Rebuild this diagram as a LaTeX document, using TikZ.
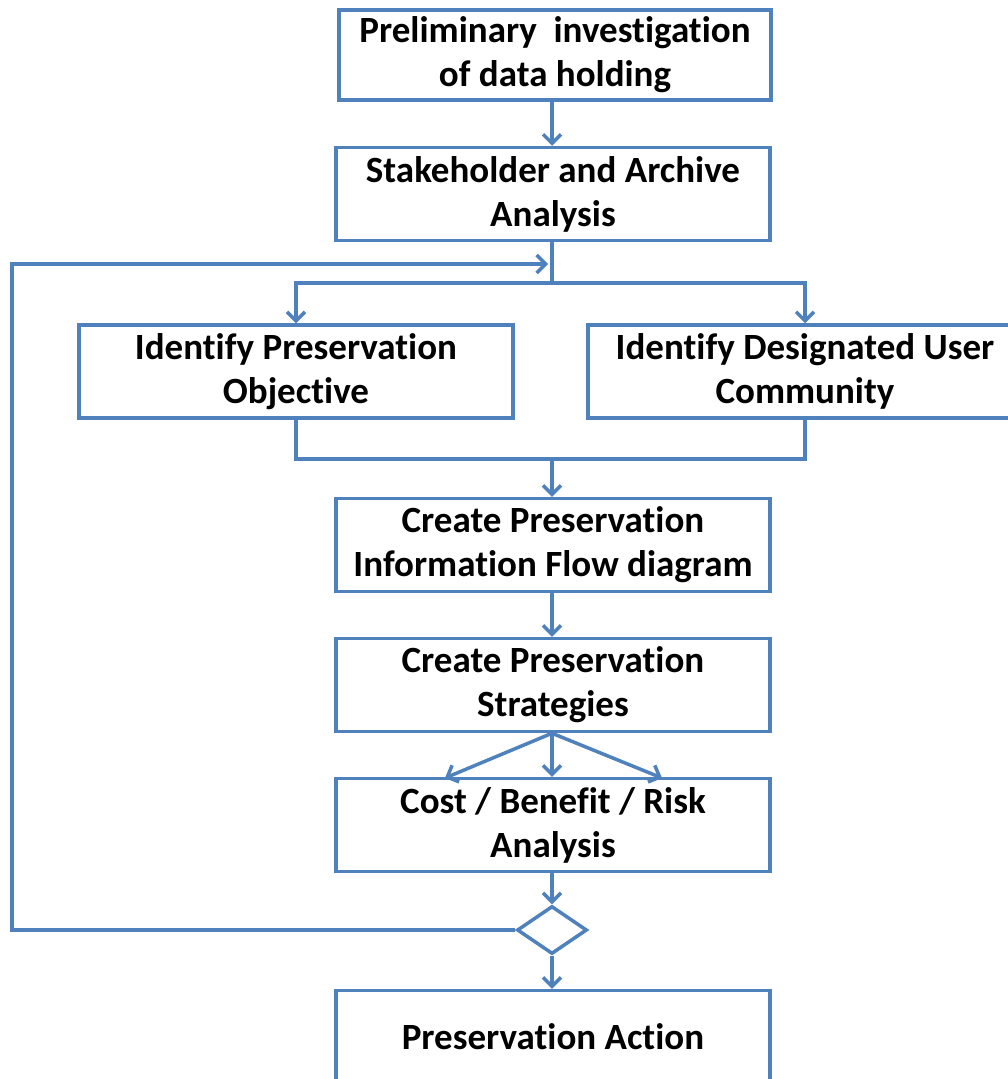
\documentclass[tikz,border=0pt]{standalone}
\usepackage{fontspec}
\setmainfont[Ligatures=NoCommon]{Carlito}
\usetikzlibrary{arrows.meta,shapes.geometric}
\definecolor{flowblue}{HTML}{4F81BD}
\tikzset{
  stepbox/.style={draw=flowblue, line width=3.5pt, fill=white, rectangle,
    minimum width=434pt, minimum height=93pt, inner sep=0pt,
    align=center, font=\bfseries\fontsize{37}{44}\selectfont},
  choice/.style={draw=flowblue, line width=3.5pt, diamond, fill=white,
    minimum width=70pt, minimum height=48pt, inner sep=0pt},
  link/.style={draw=flowblue, line width=3.5pt},
  flow/.style={link, -{Straight Barb[length=9pt,width=18pt]}}
}
\begin{document}
\begin{tikzpicture}[x=1pt,y=-1pt]
\useasboundingbox (0,0) rectangle (1008,1079);

% process boxes
\node[stepbox, minimum width=432pt, minimum height=90pt] (b1) at (555,55)
  {Preliminary~ investigation\\of data holding};
\node[stepbox] (b2) at (553,194) {Stakeholder and Archive\\Analysis};
\node[stepbox] (b3) at (296,371.5) {Identify Preservation\\Objective};
\node[stepbox] (b4) at (805,371.5) {Identify Designated User\\Community};
\node[stepbox] (b5) at (553,545) {Create Preservation\\Information Flow diagram};
\node[stepbox] (b6) at (553,685) {Create Preservation\\Strategies};
\node[stepbox] (b7) at (553,825) {Cost / Benefit / Risk\\Analysis};
\node[choice] (dec) at (552,930) {};
\node[stepbox] (b8) at (553,1037) {Preservation Action};

% junction points
\coordinate (split) at (552,283);
\coordinate (merge) at (552,459);
\coordinate (back) at (548,264);
\coordinate (c1) at (445,778);
\coordinate (c3) at (662,778);

% straight flow down the column
\draw[flow] (b1.south -| 552,0) -- (b2.north -| 552,0);
\draw[link] (b2.south -| 552,0) -- (split);
\draw[flow] (split) -| (b3.north);
\draw[flow] (split) -| (b4.north);
\draw[link] (b3.south) |- (merge);
\draw[link] (b4.south) |- (merge);
\draw[flow] (merge) -- (b5.north -| 552,0);
\draw[flow] (b5.south -| 552,0) -- (b6.north -| 552,0);
\draw[flow] (b6.south -| 552,0) -- (c1);
\draw[flow] (b6.south -| 552,0) -- (b7.north -| 552,0);
\draw[flow] (b6.south -| 552,0) -- (c3);
\draw[flow] (b7.south -| 552,0) -- (dec.north);
\draw[flow] (dec.south) -- (b8.north -| 552,0);

% feedback loop
\draw[flow] (dec.west) -- (12,930) -- (12,264) -- (back);
\end{tikzpicture}
\end{document}
